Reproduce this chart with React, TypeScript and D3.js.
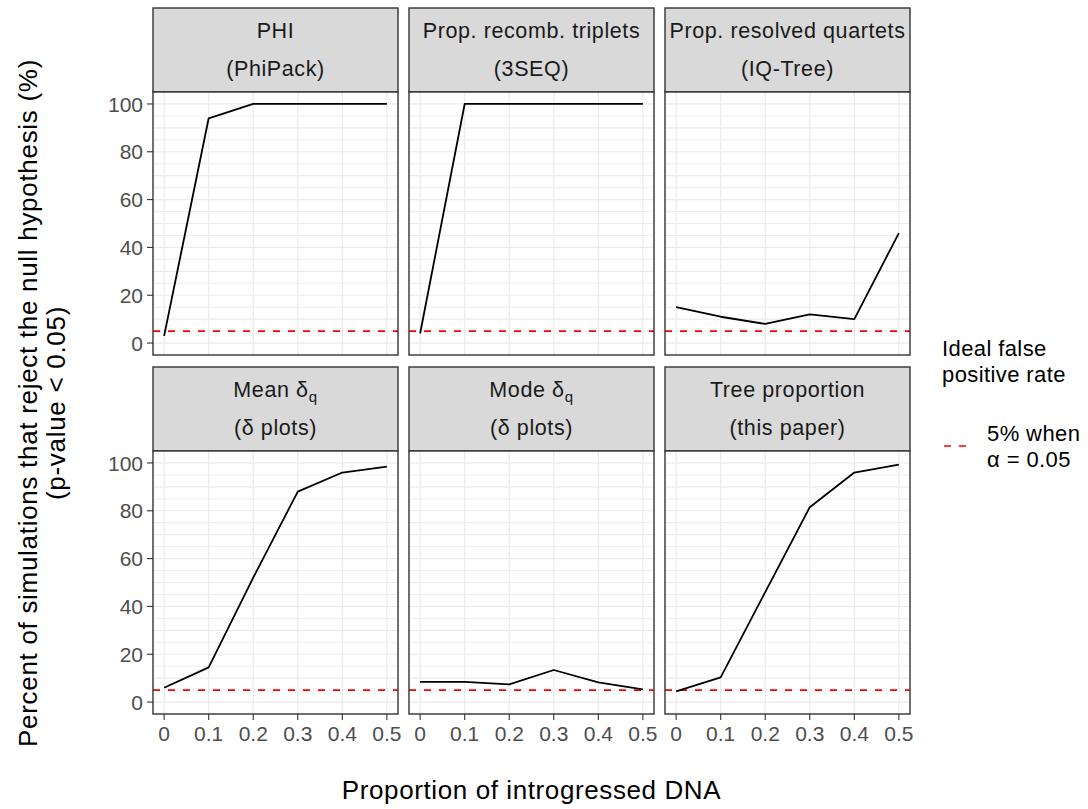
import React from "react";
import * as d3 from "d3";

const xValues = [0, 0.1, 0.2, 0.3, 0.4, 0.5];
const xTickLabels = ["0", "0.1", "0.2", "0.3", "0.4", "0.5"];
const yTicks = [0, 20, 40, 60, 80, 100];
const yGrid = d3.range(0, 101, 5);

const panelTitles = [
  { main: "PHI", sub: "", second: "(PhiPack)" },
  { main: "Prop. recomb. triplets", sub: "", second: "(3SEQ)" },
  { main: "Prop. resolved quartets", sub: "", second: "(IQ-Tree)" },
  { main: "Mean \u03b4", sub: "q", second: "(\u03b4 plots)" },
  { main: "Mode \u03b4", sub: "q", second: "(\u03b4 plots)" },
  { main: "Tree proportion", sub: "", second: "(this paper)" },
];

const phi = [3, 94, 100, 100, 100, 100];
const threeSeq = [4, 100, 100, 100, 100, 100];
const iqTree = [15, 11, 8, 12, 10, 46];
const meanDelta = [6, 14.5, 52, 88, 96, 98.5];
const modeDelta = [8.4, 8.4, 7.4, 13.4, 8.2, 5.3];
const treeProp = [4.5, 10.3, 46, 81.5, 96, 99.3];
const seriesList = [phi, threeSeq, iqTree, meanDelta, modeDelta, treeProp];
const idealRate = 5;

const colX = [153, 409, 665];
const panelW = 245;
const rowStripTop = [8, 367];
const stripH = 84;
const panelH = 263;
const FONT = "'Liberation Sans', Arial, Helvetica, sans-serif";

export default function App() {
  const x = d3.scaleLinear().domain([-0.025, 0.525]).range([0, panelW]);
  const y = d3.scaleLinear().domain([-5, 105]).range([panelH, 0]);
  const line = d3
    .line<number>()
    .x((_, i) => x(xValues[i]))
    .y((d) => y(d));

  const panels = panelTitles.map((t, idx) => {
    const col = idx % 3;
    const row = Math.floor(idx / 3);
    const px = colX[col];
    const sy = rowStripTop[row];
    const py = sy + stripH;
    const data = seriesList[idx];
    return (
      <g key={idx}>
        <rect x={px} y={sy} width={panelW} height={stripH} fill="#D9D9D9" stroke="#333333" strokeWidth={1.4} />
        <text
          x={px + panelW / 2}
          y={sy + 30}
          textAnchor="middle"
          fontSize={21.5}
          letterSpacing={0.6}
          fill="#1A1A1A"
          fontFamily={FONT}
        >
          {t.main}
          {t.sub ? (
            <tspan fontSize={15} dy={5}>
              {t.sub}
            </tspan>
          ) : null}
        </text>
        <text
          x={px + panelW / 2}
          y={sy + 68}
          textAnchor="middle"
          fontSize={21.5}
          letterSpacing={0.6}
          fill="#1A1A1A"
          fontFamily={FONT}
        >
          {t.second}
        </text>
        <g transform={`translate(${px},${py})`}>
          <rect x={0} y={0} width={panelW} height={panelH} fill="white" />
          {yGrid.map((v) => (
            <line
              key={"h" + v}
              x1={0}
              x2={panelW}
              y1={y(v)}
              y2={y(v)}
              stroke="#EBEBEB"
              strokeWidth={v % 10 === 0 ? 1.2 : 0.9}
            />
          ))}
          {xValues.map((v) => (
            <line key={"v" + v} x1={x(v)} x2={x(v)} y1={0} y2={panelH} stroke="#EBEBEB" strokeWidth={1.2} />
          ))}
          <line
            x1={0}
            x2={panelW}
            y1={y(idealRate)}
            y2={y(idealRate)}
            stroke="#FF0000"
            strokeWidth={1.7}
            strokeDasharray="7,8"
          />
          <path d={line(data) || ""} fill="none" stroke="#000000" strokeWidth={1.8} strokeLinejoin="round" />
          <rect x={0} y={0} width={panelW} height={panelH} fill="none" stroke="#333333" strokeWidth={1.4} />
          {col === 0 &&
            yTicks.map((v) => (
              <g key={"yt" + v}>
                <line x1={-6} x2={0} y1={y(v)} y2={y(v)} stroke="#333333" strokeWidth={1.1} />
                <text
                  x={-10}
                  y={y(v)}
                  dy="0.36em"
                  textAnchor="end"
                  fontSize={21}
                  fill="#4D4D4D"
                  fontFamily={FONT}
                >
                  {v}
                </text>
              </g>
            ))}
          {row === 1 &&
            xValues.map((v, i) => (
              <g key={"xt" + v}>
                <line x1={x(v)} x2={x(v)} y1={panelH} y2={panelH + 6} stroke="#333333" strokeWidth={1.1} />
                <text
                  x={x(v)}
                  y={panelH + 27}
                  textAnchor="middle"
                  fontSize={21}
                  fill="#4D4D4D"
                  fontFamily={FONT}
                >
                  {xTickLabels[i]}
                </text>
              </g>
            ))}
        </g>
      </g>
    );
  });

  const plotLeft = colX[0];
  const plotRight = colX[2] + panelW;
  const plotBottom = rowStripTop[1] + stripH + panelH;
  const yMid = (rowStripTop[0] + stripH + plotBottom) / 2;

  return (
    <svg width={1088} height={809} style={{ display: "block", position: "absolute", left: 0, top: 0 }}>
      <rect x={0} y={0} width={1088} height={809} fill="white" />
      {panels}
      <text
        x={(plotLeft + plotRight) / 2}
        y={799}
        textAnchor="middle"
        fontSize={26}
        letterSpacing={0.6}
        fill="#000"
        fontFamily={FONT}
      >
        Proportion of introgressed DNA
      </text>
      <g transform={`translate(37,${yMid}) rotate(-90)`}>
        <text x={0} y={0} textAnchor="middle" fontSize={26} letterSpacing={0.7} fill="#000" fontFamily={FONT}>
          Percent of simulations that reject the null hypothesis (%)
        </text>
        <text x={0} y={28} textAnchor="middle" fontSize={26} letterSpacing={0.7} fill="#000" fontFamily={FONT}>
          (p-value &lt; 0.05)
        </text>
      </g>
      <text x={942} y={356} fontSize={22} letterSpacing={0.4} fill="#000" fontFamily={FONT}>
        Ideal false
      </text>
      <text x={942} y={382} fontSize={22} letterSpacing={0.4} fill="#000" fontFamily={FONT}>
        positive rate
      </text>
      <line x1={944} x2={972} y1={446} y2={446} stroke="#FF0000" strokeWidth={1.7} strokeDasharray="7,8" />
      <text x={987} y={441} fontSize={22} letterSpacing={0.4} fill="#000" fontFamily={FONT}>
        5% when
      </text>
      <text x={987} y={467} fontSize={22} letterSpacing={0.4} fill="#000" fontFamily={FONT}>
        {"\u03b1 = 0.05"}
      </text>
    </svg>
  );
}
